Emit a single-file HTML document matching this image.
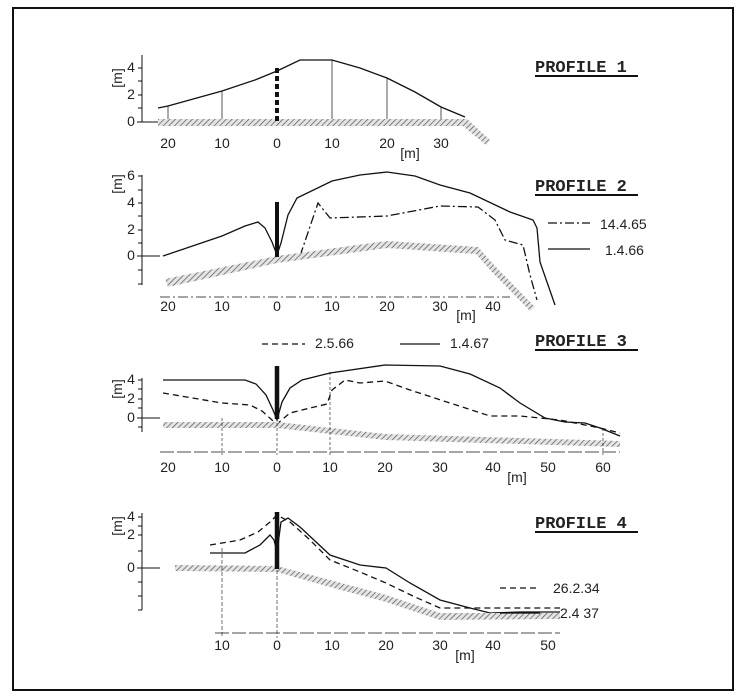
<!DOCTYPE html>
<html><head><meta charset="utf-8"><style>
html,body{margin:0;padding:0;background:#fff;}
svg{display:block;}
text{font-family:"Liberation Sans",sans-serif;fill:#222;}
.t text{font-size:14px;}
.p text{font-family:"Liberation Mono",monospace;font-size:17px;font-weight:bold;letter-spacing:0px;}
</style></head><body>
<svg width="750" height="699" viewBox="0 0 750 699" xmlns="http://www.w3.org/2000/svg">
<defs>
<pattern id="h" width="4" height="4" patternUnits="userSpaceOnUse" patternTransform="rotate(45)">
<rect width="4" height="4" fill="#e4e4e4"/><line x1="0" y1="0" x2="0" y2="4" stroke="#555" stroke-width="1.4"/>
</pattern>
</defs>
<rect x="13" y="8" width="720" height="682" fill="none" stroke="#111" stroke-width="2"/>
<g fill="none" stroke="#111" stroke-width="1.3">

<!-- PROFILE 1 -->
<path d="M142,55 V122 M137,122 H160 M138,68 H142 M138,95 H142 M138,81 H142 M138,108 H142" stroke-width="1"/>
<path d="M158,108 L168,106 L222,91 L255,80 L277,71 L300,60 L332,60 L360,68 L387,78 L415,92 L441,107 L465,117"/>
<path d="M168,106V122 M222,91V122 M332,60V122 M387,78V122 M441,107V122" stroke-width="0.7"/>
<polygon points="158,119 467,119 490,140 486,145 463,126 158,126" fill="url(#h)" stroke="none"/>
<line x1="277" y1="68" x2="277" y2="122" stroke-width="4" stroke-dasharray="5,3"/>

<!-- PROFILE 2 -->
<path d="M142,175 V285 M137,256 H160 M138,176 H142 M138,190 H142 M138,203 H142 M138,216 H142 M138,230 H142 M138,243 H142 M138,270 H142 M138,284 H142" stroke-width="1"/>
<path d="M160,297 H510" stroke-width="0.8" stroke-dasharray="10,3,2,3"/>
<path d="M163,256 L222,236 L245,226 L258,222 L265,228 L272,242 L277,255 L281,243 L288,215 L297,198 L332,181 L360,175 L387,172 L415,176 L440,185 L470,193 L510,212 L533,220 L537,228 L540,262 L555,305"/>
<path d="M300,256 L318,203 L330,218 L387,216 L440,206 L478,207 L495,220 L505,240 L523,245 L530,275 L537,300" stroke-dasharray="9,3,2,3"/>
<polygon points="165,279 277,256 387,241 478,247 495,266 535,307 530,311 492,272 476,254 387,248 277,263 168,287" fill="url(#h)" stroke="none"/>
<line x1="277" y1="202" x2="277" y2="257" stroke-width="4"/>
<path d="M548,223 H590" stroke-dasharray="9,3,2,3"/>
<path d="M548,249 H590"/>

<!-- PROFILE 3 -->
<path d="M142,378 V432 M137,418 H160 M138,380 H142 M138,389 H142 M138,399 H142 M138,408 H142 M138,427 H142" stroke-width="1"/>
<path d="M160,452 H620" stroke-width="0.8" stroke-dasharray="14,3"/>
<path d="M163,380 L245,380 L256,384 L266,395 L273,410 L277,420 L282,402 L290,388 L302,380 L330,373 L385,365 L440,366 L470,374 L500,388 L520,403 L545,418 L565,422 L585,423 L600,428 L620,436"/>
<path d="M163,393 L222,403 L250,405 L262,411 L272,420 L277,424 L290,413 L310,408 L327,404 L332,390 L345,380 L360,383 L385,381 L410,390 L450,403 L490,416 L520,416 L560,420 L600,428 L620,433" stroke-dasharray="6,4"/>
<polygon points="163,422 277,422 385,434 620,441 620,447 385,440 277,428 163,428" fill="url(#h)" stroke="none"/>
<line x1="277" y1="366" x2="277" y2="419" stroke-width="4.5"/>
<path d="M222,418V455 M277,418V455 M330,372V455 M603,428V455" stroke-width="0.6" stroke-dasharray="3,2"/>
<path d="M262,344 H305" stroke-dasharray="6,4"/>
<path d="M400,344 H440"/>

<!-- PROFILE 4 -->
<path d="M142,513 V610 M137,568 H160 M138,517 H142 M138,526 H142 M138,535 H142 M138,551 H142 M138,582 H142 M138,596 H142 M138,610 H142" stroke-width="1"/>
<path d="M215,633 H560" stroke-width="0.8" stroke-dasharray="14,3"/>
<path d="M210,545 L240,540 L258,532 L270,522 L277,515 L290,522 L310,540 L330,560 L360,572 L386,583 L415,597 L440,608 L560,608" stroke-dasharray="6,4"/>
<path d="M210,553 L245,553 L260,545 L270,535 L274,540 L277,552 L281,522 L288,518 L300,527 L330,555 L360,565 L386,568 L410,583 L440,600 L470,608 L490,613 L520,612 L560,612"/>
<polygon points="175,565 277,566 330,580 386,595 440,613 560,613 560,619 440,620 386,602 330,587 277,572 175,571" fill="url(#h)" stroke="none"/>
<line x1="277" y1="512" x2="277" y2="569" stroke-width="4.5"/>
<path d="M222,548V638 M277,570V638" stroke-width="0.6" stroke-dasharray="4,2"/>
<path d="M500,588 H540" stroke-dasharray="6,4"/>
<path d="M500,613 H540"/>
</g>

<g class="t" text-anchor="middle">
<!-- P1 -->
<text x="131" y="72">4</text><text x="131" y="99">2</text><text x="131" y="126">0</text>
<text x="168" y="148">20</text><text x="222" y="148">10</text><text x="277" y="148">0</text><text x="332" y="148">10</text><text x="387" y="148">20</text><text x="441" y="148">30</text>
<text x="410" y="158">[m]</text>
<text x="118" y="82" transform="rotate(-90 118 78)">[m]</text>
<!-- P2 -->
<text x="131" y="180">6</text><text x="131" y="207">4</text><text x="131" y="234">2</text><text x="131" y="260">0</text>
<text x="168" y="311">20</text><text x="222" y="311">10</text><text x="277" y="311">0</text><text x="332" y="311">10</text><text x="387" y="311">20</text><text x="440" y="311">30</text><text x="493" y="311">40</text>
<text x="466" y="320">[m]</text>
<text x="118" y="188" transform="rotate(-90 118 184)">[m]</text>
<!-- P3 -->
<text x="131" y="384">4</text><text x="131" y="403">2</text><text x="131" y="422">0</text>
<text x="168" y="472">20</text><text x="222" y="472">10</text><text x="277" y="472">0</text><text x="330" y="472">10</text><text x="385" y="472">20</text><text x="440" y="472">30</text><text x="493" y="472">40</text><text x="548" y="472">50</text><text x="603" y="472">60</text>
<text x="517" y="482">[m]</text>
<text x="118" y="393" transform="rotate(-90 118 389)">[m]</text>
<!-- P4 -->
<text x="131" y="521">4</text><text x="131" y="539">2</text><text x="131" y="572">0</text>
<text x="222" y="650">10</text><text x="277" y="650">0</text><text x="332" y="650">10</text><text x="386" y="650">20</text><text x="440" y="650">30</text><text x="493" y="650">40</text><text x="548" y="650">50</text>
<text x="465" y="660">[m]</text>
<text x="118" y="530" transform="rotate(-90 118 526)">[m]</text>
</g>
<g class="t">
<text x="600" y="229">14.4.65</text>
<text x="605" y="255">1.4.66</text>
<text x="315" y="348">2.5.66</text>
<text x="450" y="348">1.4.67</text>
<text x="553" y="593">26.2.34</text>
<text x="560" y="618">2.4 37</text>
</g>
<g class="p">
<text x="535" y="72">PROFILE 1</text>
<text x="535" y="191">PROFILE 2</text>
<text x="535" y="346">PROFILE 3</text>
<text x="535" y="528">PROFILE 4</text>
</g>
<g stroke="#111" stroke-width="2">
<line x1="535" y1="76" x2="638" y2="76"/>
<line x1="535" y1="195" x2="638" y2="195"/>
<line x1="535" y1="350" x2="638" y2="350"/>
<line x1="535" y1="532" x2="638" y2="532"/>
</g>
</svg>
</body></html>
